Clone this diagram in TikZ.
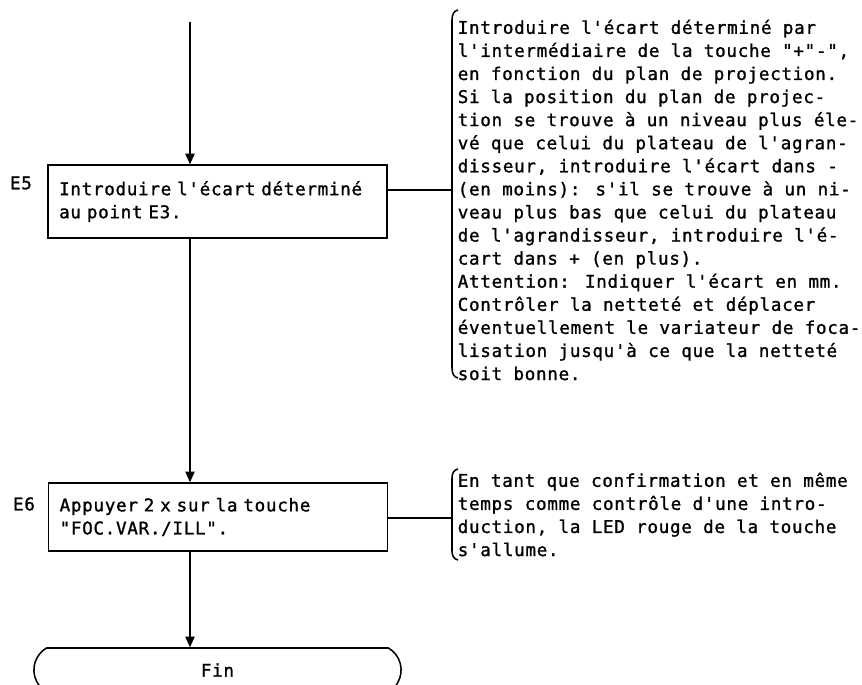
\documentclass[tikz,border=0pt]{standalone}
\usepackage{fontspec}
\usetikzlibrary{arrows.meta,shapes.misc}
\newfontfamily\plotfont{DejaVu Sans Mono}[LetterSpace=4,FakeBold=1.2]

\begin{document}
\begin{tikzpicture}[x=0.03cm, y=-0.03cm,
    line width=1.3pt,
    every node/.style={font=\plotfont\fontsize{15}{19.7}\selectfont},
    stepbox/.style={draw, rectangle, align=left, inner xsep=0.33cm,
        text width=9.5cm, minimum height=#1,
        execute at begin node={\hyphenpenalty=10000\relax}},
    endbox/.style={draw, rounded rectangle, rounded rectangle arc length=120,
        minimum width=11.25cm, minimum height=1.32cm},
    remark/.style={anchor=north west, align=left, inner sep=0pt},
    flow/.style={-{Triangle[length=3.2mm,width=2.8mm]}}]
    \useasboundingbox (0,0) rectangle (862,685);

    % steps
    \node[stepbox=2.19cm] (box5) at (217.5,201.5) {Introduire l'écart déterminé\\au point E3.};
    \node[stepbox=2.04cm] (box6) at (218,517) {Appuyer 2 x sur la touche\\"FOC.VAR./ILL".};
    \node[endbox] (fin) at (217.5,670) {Fin};
    \node (e5) at (21,183) {E5};
    \node (e6) at (24,504) {E6};

    % flow line
    \coordinate (top) at (190,22);
    \draw[flow] (top) -- (top |- box5.north);
    \draw[flow] (top |- box5.south) -- (top |- box6.north);
    \draw[flow] (top |- box6.south) -- (top |- fin.north);

    % remarks
    \node[remark] (note5) at (457,19) {Introduire l'écart déterminé par\\
        l'intermédiaire de la touche "+"-",\\
        en fonction du plan de projection.\\
        Si la position du plan de projec-\\
        tion se trouve à un niveau plus éle-\\
        vé que celui du plateau de l'agran-\\
        disseur, introduire l'écart dans -\\
        (en moins): s'il se trouve à un ni-\\
        veau plus bas que celui du plateau\\
        de l'agrandisseur, introduire l'é-\\
        cart dans + (en plus).\\
        Attention: Indiquer l'écart en mm.\\
        Contrôler la netteté et déplacer\\
        éventuellement le variateur de foca-\\
        lisation jusqu'à ce que la netteté\\
        soit bonne.};
    \node[remark] (note6) at (457,472) {En tant que confirmation et en même\\
        temps comme contrôle d'une intro-\\
        duction, la LED rouge de la touche\\
        s'allume.};

    \draw (458,10) .. controls (454,11) and (452,14) .. (452,20) -- (452,368)
        .. controls (452,374) and (454,377) .. (458,378);
    \draw (458,469) .. controls (454,470) and (452,473) .. (452,478) -- (452,551)
        .. controls (452,556) and (454,559) .. (458,560);
    \coordinate (brk5) at (452,190);
    \coordinate (brk6) at (452,518);
    \draw (box5.east |- brk5) -- (brk5);
    \draw (box6.east |- brk6) -- (brk6);
\end{tikzpicture}
\end{document}
